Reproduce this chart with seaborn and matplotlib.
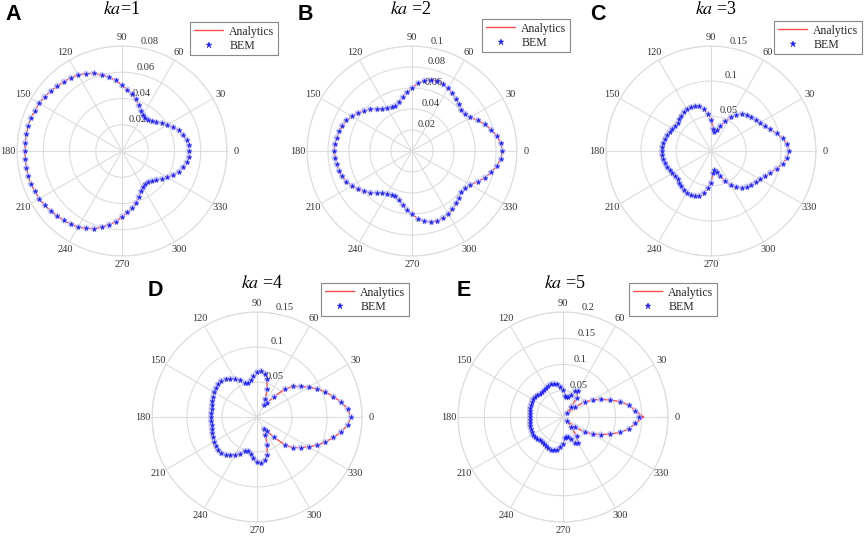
import numpy as np
import pandas as pd
import matplotlib
matplotlib.use('Agg')
import matplotlib.pyplot as plt
import matplotlib.transforms as mtransforms
from matplotlib.lines import Line2D
import seaborn as sns

# angles of the upper half (deg), pattern is symmetric about 0-180 axis
theta_half = np.arange(0, 181, 5)

# ka = 1
ka1 = [0.051, 0.051, 0.050, 0.048, 0.046, 0.043, 0.040, 0.037, 0.034, 0.032,
       0.031, 0.031, 0.032, 0.034, 0.037, 0.041, 0.044, 0.047, 0.050, 0.054,
       0.057, 0.060, 0.063, 0.065, 0.067, 0.068, 0.069, 0.070, 0.071, 0.072,
       0.073, 0.073, 0.074, 0.074, 0.074, 0.074, 0.074]
# ka = 2
ka2 = [0.086, 0.085, 0.082, 0.078, 0.074, 0.069, 0.064, 0.062, 0.061, 0.063,
       0.065, 0.067, 0.069, 0.070, 0.071, 0.070, 0.068, 0.065, 0.060, 0.056,
       0.052, 0.048, 0.046, 0.046, 0.047, 0.049, 0.052, 0.056, 0.060, 0.063,
       0.066, 0.069, 0.071, 0.072, 0.073, 0.074, 0.074]
# ka = 3
ka3 = [0.111, 0.109, 0.104, 0.097, 0.090, 0.085, 0.081, 0.078, 0.075, 0.072,
       0.069, 0.063, 0.056, 0.047, 0.038, 0.031, 0.028, 0.032, 0.045, 0.053,
       0.061, 0.066, 0.068, 0.069, 0.069, 0.068, 0.066, 0.064, 0.062, 0.062,
       0.064, 0.065, 0.067, 0.068, 0.069, 0.070, 0.070]
# ka = 4
ka4 = [0.134, 0.130, 0.122, 0.113, 0.104, 0.095, 0.085, 0.076, 0.068, 0.057,
       0.038, 0.025, 0.020, 0.028, 0.042, 0.056, 0.063, 0.066, 0.064, 0.059,
       0.053, 0.050, 0.052, 0.058, 0.063, 0.067, 0.070, 0.073, 0.073, 0.072,
       0.071, 0.069, 0.068, 0.067, 0.066, 0.066, 0.066]
# ka = 5 (BEM and analytics differ slightly)
ka5_bem = [0.144, 0.138, 0.128, 0.113, 0.095, 0.079, 0.065, 0.050, 0.030, 0.010,
           0.025, 0.045, 0.058, 0.055, 0.045, 0.039, 0.038, 0.041, 0.052, 0.058,
           0.063, 0.066, 0.067, 0.066, 0.064, 0.062, 0.061, 0.062, 0.064, 0.066,
           0.067, 0.066, 0.065, 0.065, 0.064, 0.063, 0.063]
ka5_ana = [0.153, 0.138, 0.128, 0.113, 0.095, 0.079, 0.065, 0.050, 0.030, 0.010,
           0.025, 0.045, 0.058, 0.055, 0.045, 0.039, 0.038, 0.041, 0.052, 0.058,
           0.063, 0.066, 0.067, 0.066, 0.064, 0.062, 0.061, 0.062, 0.064, 0.066,
           0.068, 0.068, 0.067, 0.067, 0.067, 0.066, 0.066]

letters = ['A', 'B', 'C', 'D', 'E']
titles = [r'$ka$=1', r'$ka$ =2', r'$ka$ =3', r'$ka$ =4', r'$ka$ =5']
ana_sets = [ka1, ka2, ka3, ka4, ka5_ana]
bem_sets = [ka1, ka2, ka3, ka4, ka5_bem]
rticks = [[0.02, 0.04, 0.06, 0.08],
          [0.02, 0.04, 0.06, 0.08, 0.1],
          [0.05, 0.1, 0.15],
          [0.05, 0.1, 0.15],
          [0.05, 0.1, 0.15, 0.2]]
angle_labels = [str(a) for a in range(0, 360, 30)]

sns.set_theme(style='white')
plt.rcParams['font.family'] = ['Liberation Serif', 'DejaVu Serif']
plt.rcParams['mathtext.fontset'] = 'stix'

W, H = 865, 537
fig = plt.figure(figsize=(W / 100, H / 100), dpi=100)

# panel centres in pixels, radius of the outer ring
centres = [(122, 151), (412, 151), (711, 151), (257, 417), (563, 417)]
R = 105
legend_corner = [(278, 22), (570, 19), (862, 21), (409, 283), (717, 283)]
title_pos = [(122, 10), (411, 10), (716, 10), (262, 283), (565, 283)]
letter_pos = [(13, 14), (305, 14), (598, 14), (155, 290), (464, 290)]

grid_col = '#dcdcdc'
txt_col = '#333333'
red = '#ff4a4a'
blue = '#1a1aff'


def full_circle(half):
    half = np.asarray(half)
    return np.concatenate([half, half[-2::-1]])


theta_full = np.deg2rad(np.concatenate([theta_half, 360 - theta_half[-2::-1]]))

for i in range(5):
    cx, cy = centres[i]
    ax = fig.add_axes([(cx - R) / W, 1 - (cy + R) / H, 2 * R / W, 2 * R / H],
                      projection='polar')
    r_ana = full_circle(ana_sets[i])
    r_bem = full_circle(bem_sets[i])
    df = pd.DataFrame({'theta': theta_full, 'ana': r_ana, 'bem': r_bem})

    sns.lineplot(data=df, x='theta', y='ana', ax=ax, color=red, lw=1.0,
                 sort=False, estimator=None, legend=False, zorder=2)
    sns.scatterplot(data=df.iloc[:-1], x='theta', y='bem', ax=ax, marker='o',
                    s=20, color='#c2c6ff', edgecolor='none', alpha=0.9,
                    legend=False, zorder=3)
    sns.scatterplot(data=df.iloc[:-1], x='theta', y='bem', ax=ax, marker='*',
                    s=13, color=blue, edgecolor=blue, linewidth=0.2,
                    legend=False, zorder=4)

    rmax = rticks[i][-1]
    ax.set_ylim(0, rmax)
    ax.set_xlabel('')
    ax.set_ylabel('')
    ax.set_xticks(np.deg2rad(np.arange(0, 360, 30)))
    ax.set_xticklabels([])
    ax.set_yticks(rticks[i])
    ax.set_yticklabels([])
    ax.tick_params(length=0)
    ax.grid(True, color=grid_col, lw=0.8)
    ax.spines['polar'].set_color(grid_col)
    ax.spines['polar'].set_linewidth(0.8)
    ax.set_facecolor('none')

    # angle labels just outside the outer ring
    for a, lab in zip(range(0, 360, 30), angle_labels):
        ax.text(np.deg2rad(a), rmax * 1.085, lab, ha='center', va='center',
                fontsize=7.5, color=txt_col, clip_on=False)
    # radial labels near the 81 deg spoke
    off = mtransforms.offset_copy(ax.transData, fig=fig, x=3, y=6, units='dots')
    for t in rticks[i]:
        ax.text(np.deg2rad(81.5), t, f'{t:g}', ha='left', va='center',
                fontsize=7.5, color=txt_col, transform=off, clip_on=False)

    handles = [Line2D([], [], color=red, lw=1.0),
               Line2D([], [], color=blue, marker='*', ls='none', ms=4.5,
                      markeredgewidth=0.3)]
    lx, ly = legend_corner[i]
    leg = ax.legend(handles, ['Analytics', 'BEM'], loc='upper right',
                    bbox_to_anchor=(lx / W, 1 - ly / H),
                    bbox_transform=fig.transFigure, fontsize=8.5,
                    frameon=True, fancybox=False, framealpha=1,
                    edgecolor='#888888', handlelength=2.5, handletextpad=0.5,
                    borderpad=0.3, labelspacing=0.2, borderaxespad=0)
    leg.get_frame().set_linewidth(0.8)

    tx, ty = title_pos[i]
    fig.text(tx / W, 1 - ty / H, titles[i], ha='center', va='center',
             fontsize=13, color='black')
    px, py = letter_pos[i]
    fig.text(px / W, 1 - py / H, letters[i], ha='center', va='center',
             fontsize=15.5, fontweight='bold', family='Liberation Sans',
             color='black')

fig.savefig('out.png', dpi=100)
